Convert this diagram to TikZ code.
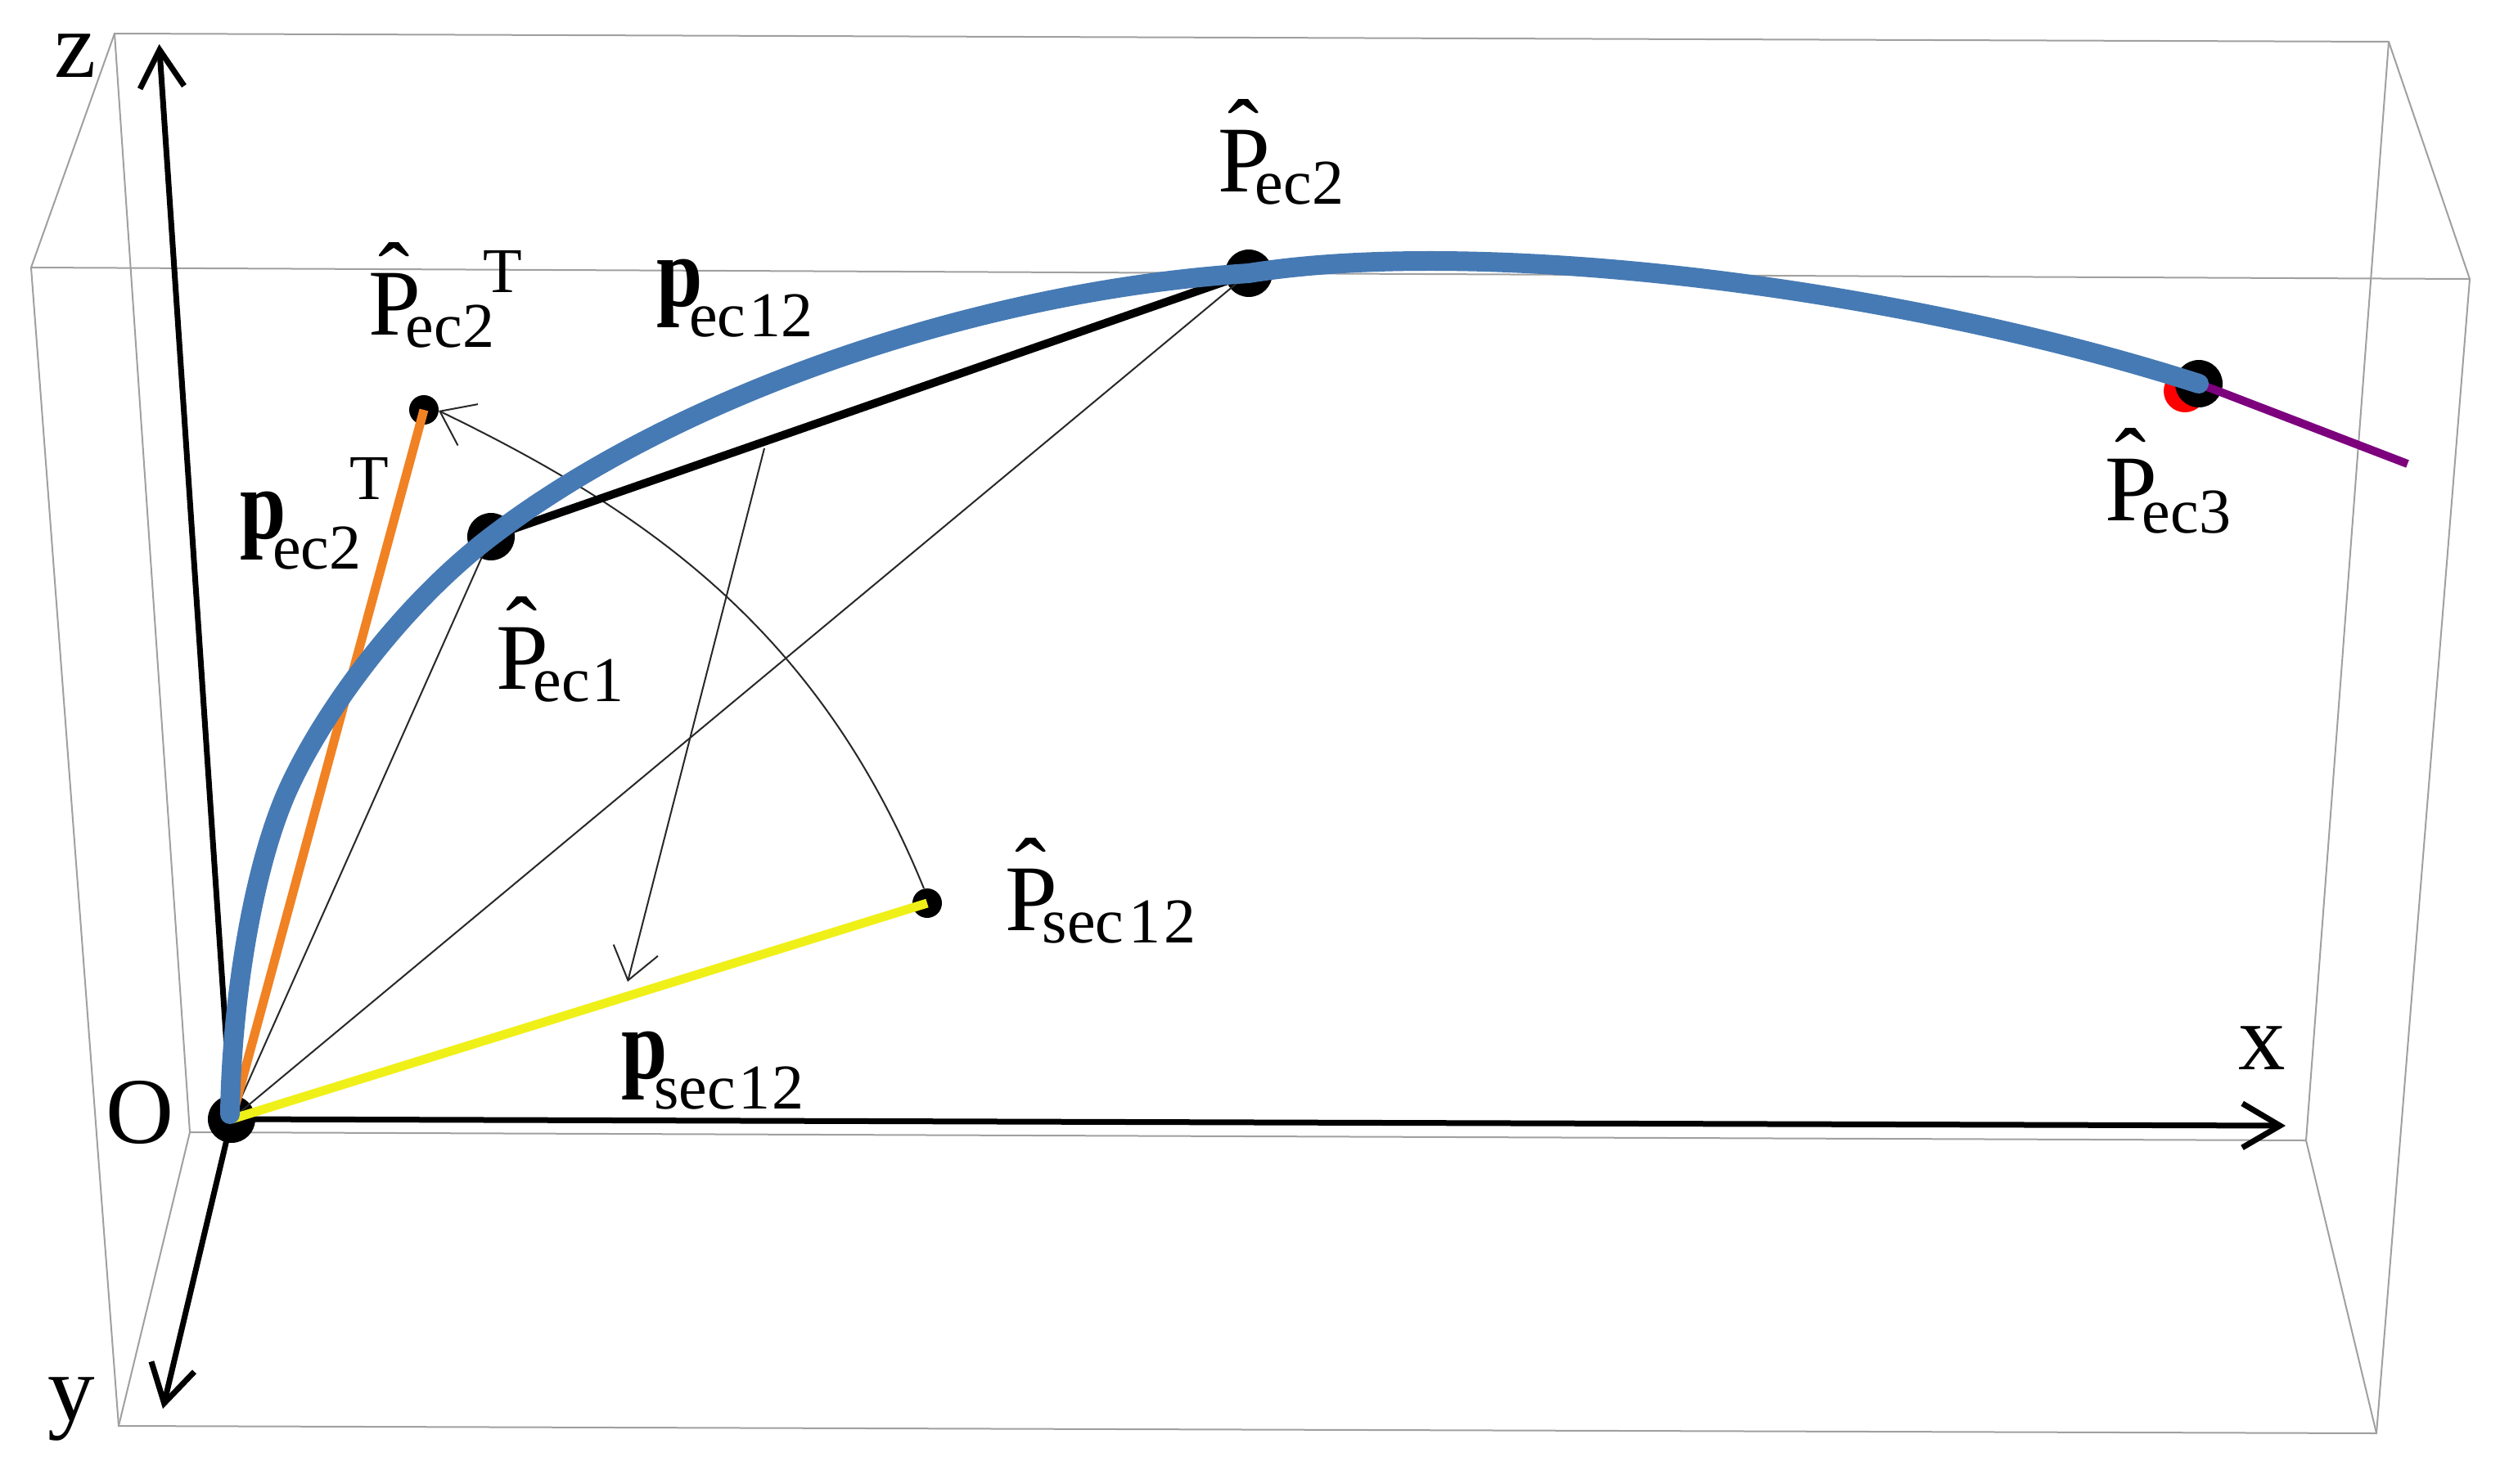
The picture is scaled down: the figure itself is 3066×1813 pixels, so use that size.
\documentclass[tikz,border=0pt]{standalone}
\usepackage{fontspec}
\usepackage{graphicx}
\setmainfont{Liberation Serif}
\usetikzlibrary{arrows.meta}
\definecolor{boxgrey}{RGB}{160,160,160}
\definecolor{thingrey}{RGB}{40,40,40}
\definecolor{curveblue}{RGB}{70,122,180}
\definecolor{vecorange}{RGB}{240,130,35}
\definecolor{vecyellow}{RGB}{240,240,25}
\definecolor{vecpurple}{RGB}{125,0,125}
\newcommand{\bigf}{\fontsize{115pt}{115pt}\selectfont}
\newcommand{\subf}{\fontsize{78pt}{78pt}\selectfont}
\newcommand{\Phatsym}{\makebox[0pt][l]{\hspace{12pt}\raisebox{33pt}{\char"02C6}}P}
\newcommand{\PH}[2][-18pt]{\bigf\Phatsym\kern#1\raisebox{-15pt}{\subf #2}}
\newcommand{\PB}[2][-16pt]{\bigf\scalebox{0.88}[1.06]{\textbf{p}}\kern#1\raisebox{-37pt}{\subf #2}}
\tikzset{
  x=1pt,y=-1pt,
  wire/.style={draw=boxgrey,line width=2pt},
  axis/.style={draw=black,line width=7pt,-{Straight Barb[length=46pt,width=54pt]}},
  thin line/.style={draw=thingrey,line width=2pt},
  thin arrow/.style={draw=thingrey,line width=2pt,-{Straight Barb[length=38pt,width=56pt]}},
  bigdot/.style={circle,fill=black,minimum size=58pt,inner sep=0pt},
  smalldot/.style={circle,fill=black,minimum size=36pt,inner sep=0pt},
  label/.style={anchor=base west,inner sep=0pt,outer sep=0pt,text=black},
  supt/.style={anchor=base west,inner sep=0pt,outer sep=0pt,text=black,font=\subf},
}
\begin{document}
\begin{tikzpicture}
\path[use as bounding box] (0,0) rectangle (3066,1813);
\fill[white] (0,0) rectangle (3066,1813);
% box corners
\coordinate (btl) at (140,41);
\coordinate (btr) at (2919,51);
\coordinate (bbl) at (232,1384);
\coordinate (bbr) at (2818,1394);
\coordinate (ftl) at (38,327);
\coordinate (ftr) at (3018,341);
\coordinate (fbl) at (145,1743);
\coordinate (fbr) at (2904,1752);
\draw[wire] (btl)--(btr)--(bbr)--(bbl)--cycle;
\draw[wire] (ftl)--(ftr)--(fbr)--(fbl)--cycle;
\draw[wire] (btl)--(ftl) (btr)--(ftr) (bbl)--(fbl) (bbr)--(fbr);
% points
\node[bigdot] (O) at (283,1368) {};
\node[bigdot] (P1) at (600,656) {};
\node[bigdot] (P2) at (1526,334) {};
\node[circle,fill=red,minimum size=52pt,inner sep=0pt] (P3red) at (2670,478) {};
\node[bigdot] (P3) at (2687,469) {};
\node[smalldot] (PT) at (518,501) {};
\node[smalldot] (PS) at (1133,1104) {};
% axis ends
\coordinate (zend) at (194.5,54);
\coordinate (xend) at (2793,1376);
\coordinate (yend) at (199,1722);
\coordinate (pur) at (2942,567);
\coordinate (tipS) at (1129,1086);
\coordinate (tipT) at (536,502);
\coordinate (tipA) at (934,548);
\coordinate (tipB) at (767,1200);
\coordinate (cv) at (352,965);
% axes
\draw[axis] (O.center)--(zend);
\draw[axis] (O.center)--(xend);
\draw[axis] (O.center)--(yend);
% thin lines
\draw[thin line] (O.center)--(P1.center);
\draw[thin line] (O.center)--(P2.center);
\draw[thin arrow] (tipS) .. controls (1000,770) and (790,625) .. (tipT);
\draw[thin arrow] (tipA)--(tipB);
% vectors
\draw[vecorange,line width=11pt] (O.center)--(PT.center);
\draw[vecyellow,line width=11pt] (O.center)--(PS.center);
\draw[black,line width=10pt] (P1.center)--(P2.center);
\draw[vecpurple,line width=10pt] (P3.center)--(pur);
% curve
\draw[curveblue,line width=24pt,line cap=round]
  (281,1362) .. controls (283,1220) and (310,1058) .. (cv)
  .. controls (395,870) and (490,740) .. (P1.center)
  .. controls (830,480) and (1200,355) .. (P2.center)
  .. controls (1800,290) and (2300,345) .. (P3.center);
% labels
\node[label] (lz) at (66,94) {\bigf z};
\node[label] (lO) at (129,1397) {\bigf O};
\node[label] (ly) at (58,1736) {\bigf y};
\node[label] (lx) at (2735,1307) {\bigf x};
\node[label] (lPT) at (450,409) {\PH{ec2}};
\node[supt] (lPTt) at (590,357) {T};
\node[label] (lP1) at (606,842) {\PH{ec\kern2pt 1}};
\node[label] (lP2) at (1488,234) {\PH{ec2}};
\node[label] (lP3) at (2572,636) {\PH{ec3}};
\node[label] (lPS) at (1228,1137) {\PH{sec\kern6pt 1\kern4pt 2}};
\node[label] (lp12) at (802,374) {\PB{ec\kern4pt 12}};
\node[label] (lp2) at (293,658) {\PB{ec2}};
\node[supt] (lp2t) at (427,610) {T};
\node[label] (lps) at (759,1318) {\PB{sec\kern4pt 1\kern2pt 2}};
\end{tikzpicture}
\end{document}
